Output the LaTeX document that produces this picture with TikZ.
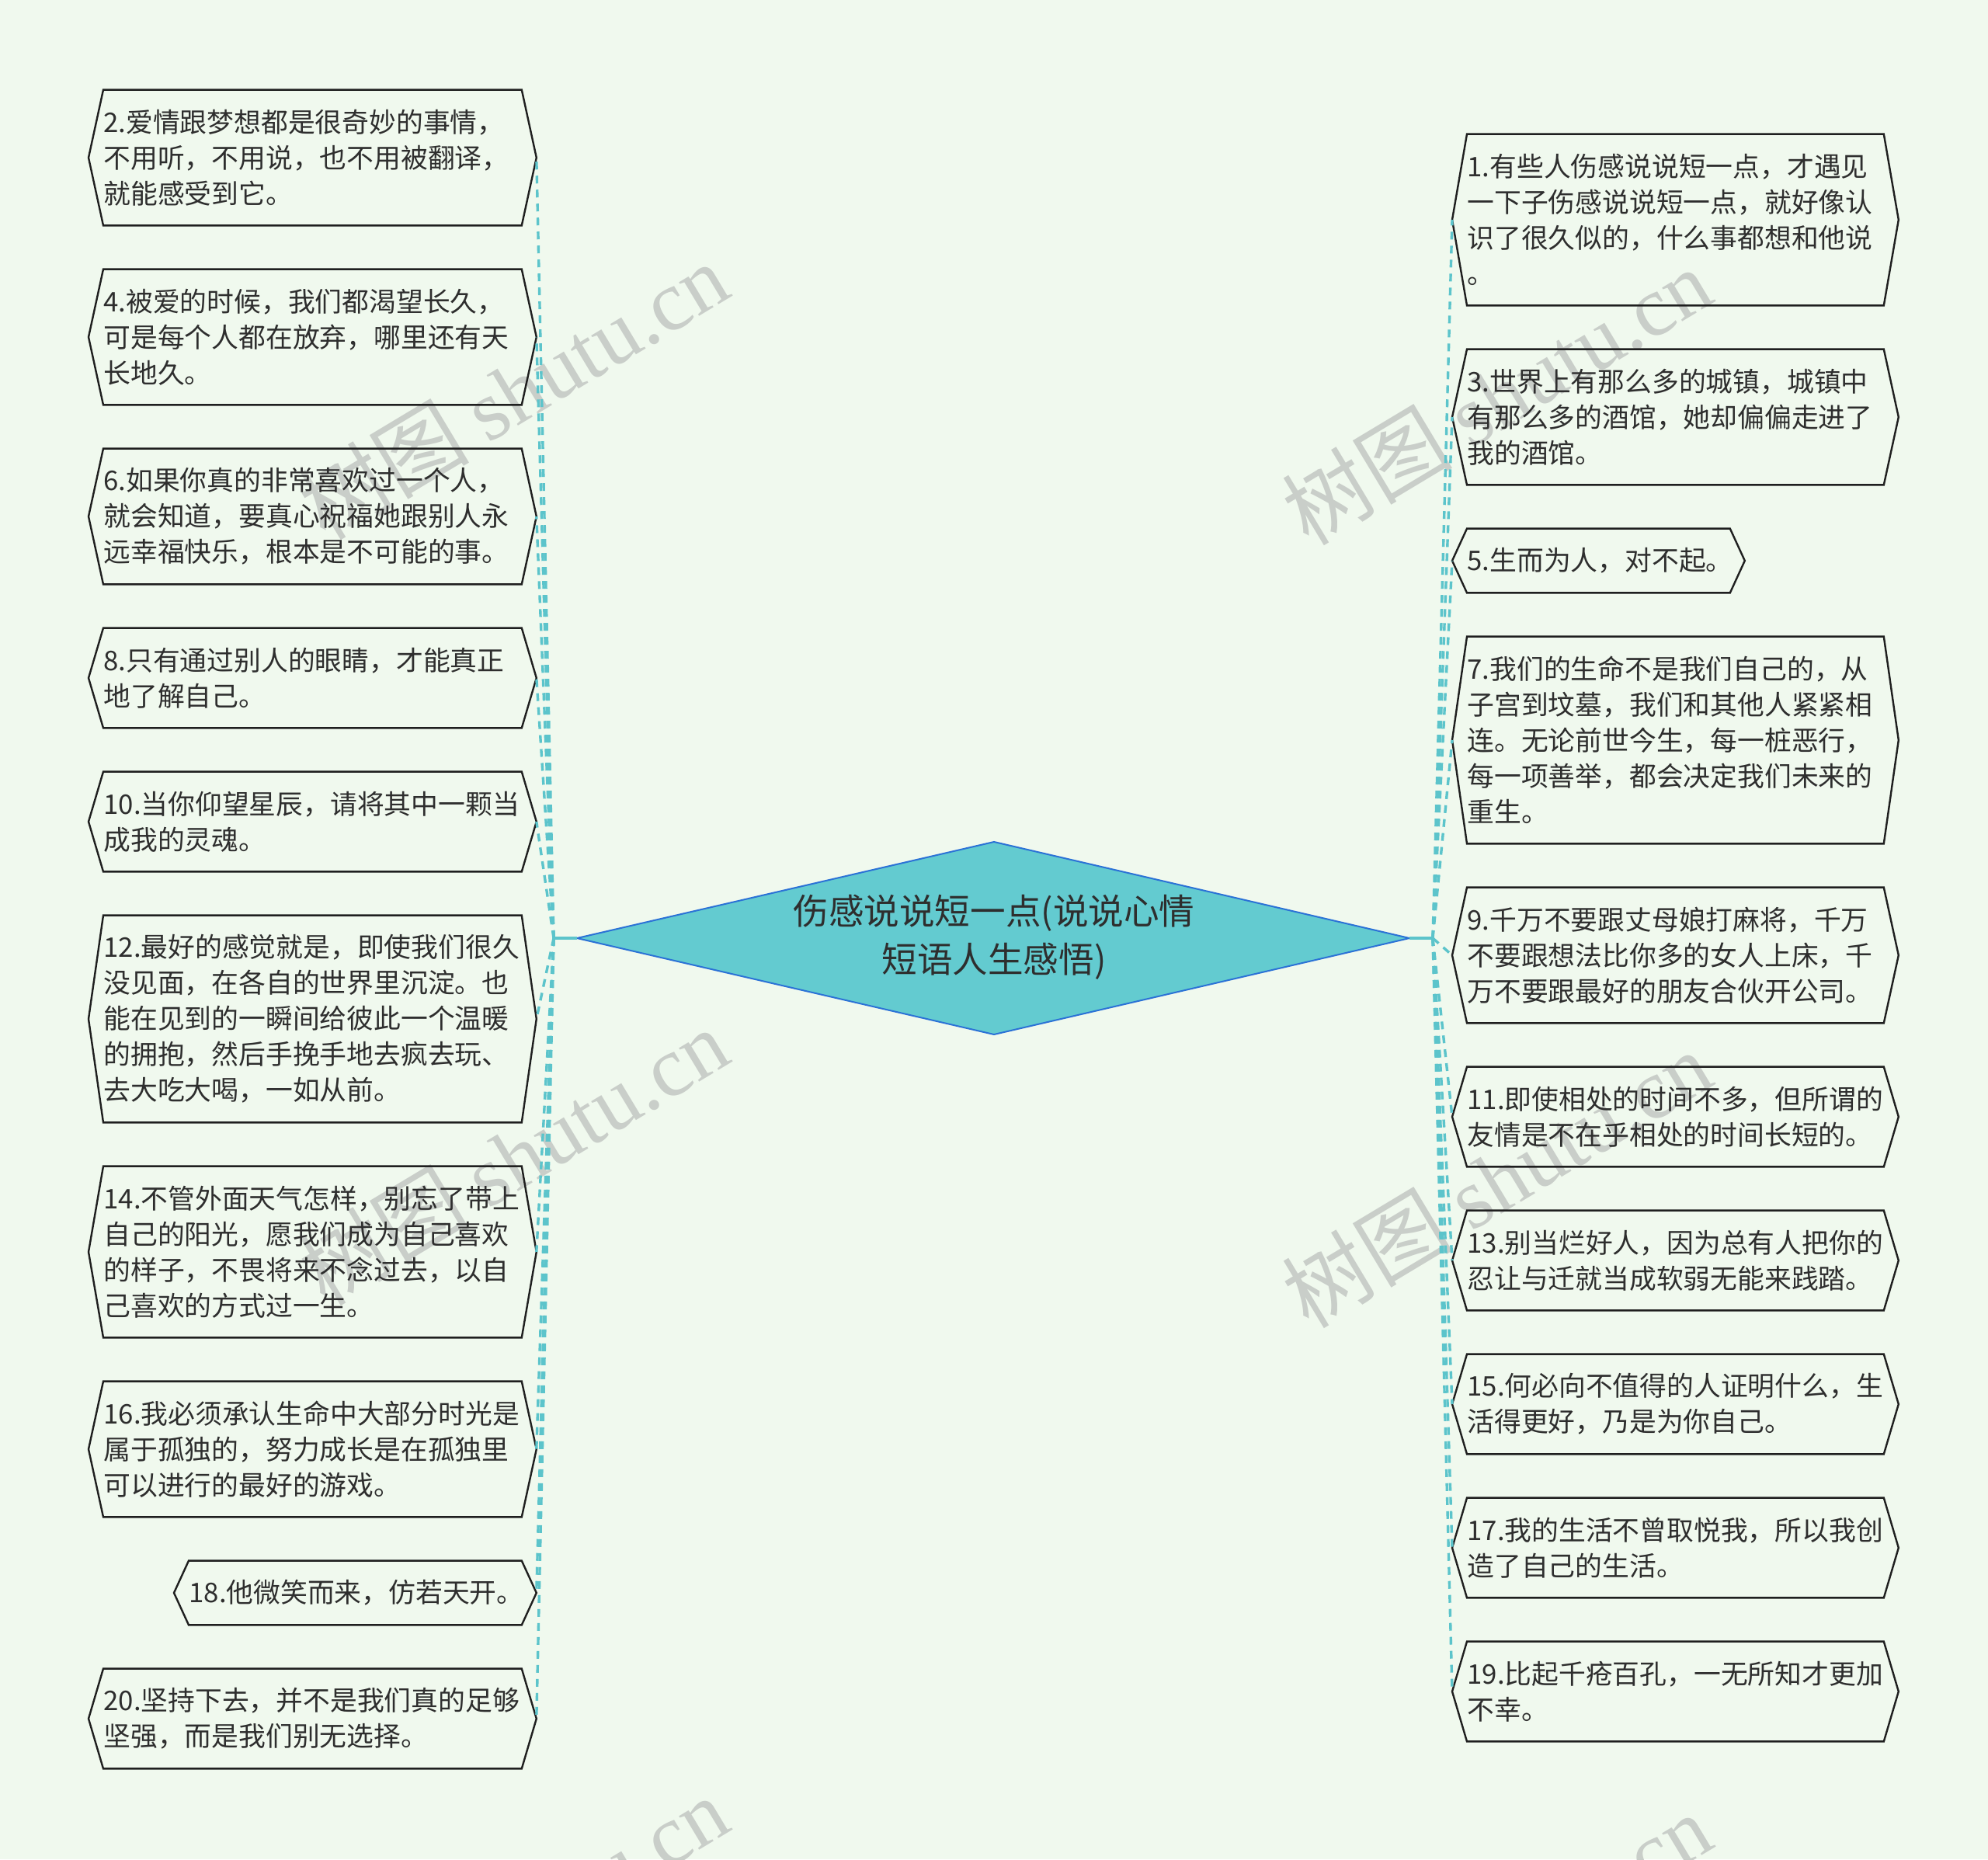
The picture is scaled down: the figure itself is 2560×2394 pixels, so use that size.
\documentclass[tikz,border=0pt]{standalone}
\usepackage{fontspec}
\setmainfont{Noto Sans CJK SC}
\newfontfamily\wmlatin{Liberation Serif}
\usetikzlibrary{calc}
\definecolor{bgc}{HTML}{F0F9EE}
\definecolor{rootfill}{HTML}{63CBD0}
\definecolor{rootline}{HTML}{2B72D6}
\definecolor{conn}{HTML}{5CC4CB}
\definecolor{txt}{HTML}{2E2E2E}
\definecolor{wm}{HTML}{C9CEC9}
\tikzset{
  leaf/.style={anchor=west, inner sep=0pt, align=left, text=txt,
    font=\fontsize{17.4pt}{23pt}\selectfont},
  leafL/.style={leaf, text width=269pt, minimum height=#1},
  leafR/.style={leaf, text width=268pt, minimum height=#1},
  hexline/.style={draw=black!88, line width=1.2pt, line join=miter},
  link/.style={draw=conn, line width=1.7pt, dash pattern=on 5pt off 4pt},
  rootlink/.style={draw=conn, line width=1.6pt},
  rootshape/.style={draw=rootline, fill=rootfill, line width=1pt, line join=miter},
  roottext/.style={align=center, text=txt, inner sep=0pt,
    font=\fontsize{22.8pt}{31pt}\selectfont},
  wmark/.style={text=wm, rotate=31, inner sep=0pt,
    font=\fontsize{55pt}{55pt}\selectfont}
}
\begin{document}
\begin{tikzpicture}[x=0.5pt,y=-0.5pt]
\useasboundingbox (0,0) rectangle (2560,2394);
\fill[bgc] (0,0) rectangle (2560,2394);

% watermarks
\node[wmark] (wm1) at (661,503) {树图 {\wmlatin shutu.cn}};
\node[wmark] (wm2) at (661,1489) {树图 {\wmlatin shutu.cn}};
\node[wmark] (wm3) at (661,2478) {树图 {\wmlatin shutu.cn}};
\node[wmark] (wm4) at (1927,510) {树图 {\wmlatin shutu.cn}};
\node[wmark] (wm5) at (1927,1518) {树图 {\wmlatin shutu.cn}};
\node[wmark] (wm6) at (1927,2500) {树图 {\wmlatin shutu.cn}};

% root
\coordinate (rootW) at (743,1208);
\coordinate (rootE) at (1815,1208);
\coordinate (rootN) at (1280,1084);
\coordinate (rootS) at (1280,1332);
\coordinate (JL) at (713,1208);
\coordinate (JR) at (1845,1208);
\draw[rootshape] (rootW) -- (rootN) -- (rootE) -- (rootS) -- cycle;
\node[roottext] (root) at (1280,1207) {伤感说说短一点(说说心情\\短语人生感悟)};

% left nodes
\node[leafL=87pt] (n2) at (133,203) {2.爱情跟梦想都是很奇妙的事情，\\不用听，不用说，也不用被翻译，\\就能感受到它。};
\node[leafL=87pt] (n4) at (133,434) {4.被爱的时候，我们都渴望长久，\\可是每个人都在放弃，哪里还有天\\长地久。};
\node[leafL=87pt] (n6) at (133,665) {6.如果你真的非常喜欢过一个人，\\就会知道，要真心祝福她跟别人永\\远幸福快乐，根本是不可能的事。};
\node[leafL=64pt] (n8) at (133,873) {8.只有通过别人的眼睛，才能真正\\地了解自己。};
\node[leafL=64pt] (n10) at (133,1058) {10.当你仰望星辰，请将其中一颗当\\成我的灵魂。};
\node[leafL=133pt] (n12) at (133,1312) {12.最好的感觉就是，即使我们很久\\没见面，在各自的世界里沉淀。也\\能在见到的一瞬间给彼此一个温暖\\的拥抱，然后手挽手地去疯去玩、\\去大吃大喝，一如从前。};
\node[leafL=110pt] (n14) at (133,1612) {14.不管外面天气怎样，别忘了带上\\自己的阳光，愿我们成为自己喜欢\\的样子，不畏将来不念过去，以自\\己喜欢的方式过一生。};
\node[leafL=87pt] (n16) at (133,1866) {16.我必须承认生命中大部分时光是\\属于孤独的，努力成长是在孤独里\\可以进行的最好的游戏。};
\node[leaf, text width=214pt, minimum height=41pt] (n18) at (243,2051) {18.他微笑而来，仿若天开。};
\node[leafL=64pt] (n20) at (133,2213) {20.坚持下去，并不是我们真的足够\\坚强，而是我们别无选择。};

% right nodes
\node[leafR=110pt] (n1) at (1889,283) {1.有些人伤感说说短一点，才遇见\\一下子伤感说说短一点，就好像认\\识了很久似的，什么事都想和他说\\。};
\node[leafR=87pt] (n3) at (1889,537) {3.世界上有那么多的城镇，城镇中\\有那么多的酒馆，她却偏偏走进了\\我的酒馆。};
\node[leaf, text width=169pt, minimum height=41pt] (n5) at (1889,722) {5.生而为人，对不起。};
\node[leafR=133pt] (n7) at (1889,953) {7.我们的生命不是我们自己的，从\\子宫到坟墓，我们和其他人紧紧相\\连。无论前世今生，每一桩恶行，\\每一项善举，都会决定我们未来的\\重生。};
\node[leafR=87pt] (n9) at (1889,1230) {9.千万不要跟丈母娘打麻将，千万\\不要跟想法比你多的女人上床，千\\万不要跟最好的朋友合伙开公司。};
\node[leafR=64pt] (n11) at (1889,1438) {11.即使相处的时间不多，但所谓的\\友情是不在乎相处的时间长短的。};
\node[leafR=64pt] (n13) at (1889,1623) {13.别当烂好人，因为总有人把你的\\忍让与迁就当成软弱无能来践踏。};
\node[leafR=64pt] (n15) at (1889,1808) {15.何必向不值得的人证明什么，生\\活得更好，乃是为你自己。};
\node[leafR=64pt] (n17) at (1889,1993) {17.我的生活不曾取悦我，所以我创\\造了自己的生活。};
\node[leafR=64pt] (n19) at (1889,2178) {19.比起千疮百孔，一无所知才更加\\不幸。};

% hexagon outlines
\foreach \n in {n1,n2,n3,n4,n5,n6,n7,n8,n9,n10,n11,n12,n13,n14,n15,n16,n17,n18,n19,n20}
  \draw[hexline] (\n.north west) -- (\n.north east) -- ([xshift=9.5pt]\n.east)
    -- (\n.south east) -- (\n.south west) -- ([xshift=-9.5pt]\n.west) -- cycle;

% connectors
\draw[rootlink] (rootW) -- (JL);
\draw[rootlink] (rootE) -- (JR);
\foreach \n in {n2,n4,n6,n8,n10,n12,n14,n16,n18,n20}
  \draw[link] (JL) -- ([xshift=9.5pt]\n.east);
\foreach \n in {n1,n3,n5,n7,n9,n11,n13,n15,n17,n19}
  \draw[link] (JR) -- ([xshift=-9.5pt]\n.west);
\end{tikzpicture}
\end{document}
